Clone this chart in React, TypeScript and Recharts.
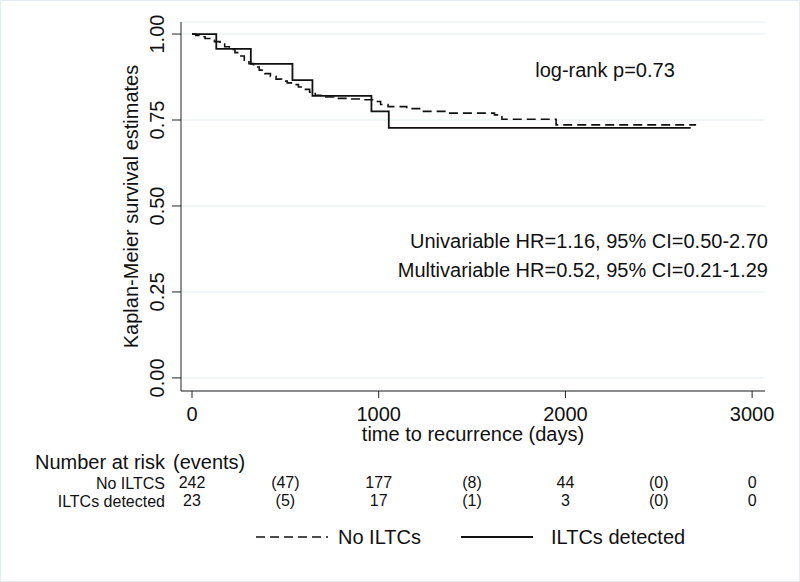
import { CartesianGrid, Line, LineChart, XAxis, YAxis } from "recharts"

const FONT = "'Liberation Sans', Arial, Helvetica, sans-serif"
const INK = "#111"

// axis ticks
const xTicks = [0, 1000, 2000, 3000]
const yTicks = [0, 0.25, 0.5, 0.75, 1]

// number at risk table (events in parentheses between ticks)
const riskTimes = [0, 500, 1000, 1500, 2000, 2500, 3000]
const riskNoIltc = ["242", "(47)", "177", "(8)", "44", "(0)", "0"]
const riskIltc = ["23", "(5)", "17", "(1)", "3", "(0)", "0"]

// Kaplan-Meier curve, ILTCs detected (solid)
const iltcTimes = [0, 130, 315, 538, 645, 961, 1054, 2671]
const iltcSurv = [1, 0.957, 0.913, 0.866, 0.82, 0.775, 0.727, 0.727]

// Kaplan-Meier curve, no ILTCs (dashed)
const noIltcTimes = [
  0, 20, 45, 70, 95, 120, 150, 175, 200, 230, 255, 280, 305, 330, 360, 390, 420, 450, 480, 510, 540, 570, 600,
  630, 660, 700, 760, 830, 900, 980, 1010, 1050, 1150, 1230, 1360, 1620, 1660, 1950, 2700,
]
const noIltcSurv = [
  1, 0.996, 0.992, 0.987, 0.982, 0.978, 0.971, 0.963, 0.955, 0.946, 0.936, 0.924, 0.914, 0.904, 0.895, 0.885,
  0.877, 0.869, 0.863, 0.858, 0.853, 0.846, 0.839, 0.831, 0.822, 0.817, 0.813, 0.811, 0.809, 0.804, 0.795, 0.789,
  0.783, 0.775, 0.77, 0.765, 0.752, 0.736, 0.736,
]

const iltcData = iltcTimes.map((t, i) => ({ t, s: iltcSurv[i] }))
const noIltcData = noIltcTimes.map((t, i) => ({ t, s: noIltcSurv[i] }))
// anchor rows so the risk-table axes get registered (drawn invisibly)
const riskRow = riskTimes.map((t) => ({ t, s: 0.5 }))

const X_DOMAIN: [number, number] = [-59, 3069]
const Y_DOMAIN: [number, number] = [-0.038, 1.035]

function YTick(props: any) {
  const { x, y, payload } = props
  return (
    <text x={x} y={y} transform={`rotate(-90 ${x} ${y})`} textAnchor="middle" fontSize={20} fill={INK}>
      {Number(payload.value).toFixed(2)}
    </text>
  )
}

export default function App() {
  return (
    <div style={{ position: "absolute", left: 0, top: 0, width: 800, height: 582, background: "#fff", fontFamily: FONT }}>
      <LineChart width={800} height={582} margin={{ top: 22, right: 35, left: 0, bottom: 77 }} style={{ fontFamily: FONT }}>
        <CartesianGrid xAxisId="main" vertical={false} stroke="#e3ecef" strokeWidth={1} />
        <XAxis
          xAxisId="main"
          dataKey="t"
          type="number"
          domain={X_DOMAIN}
          ticks={xTicks}
          interval={0}
          allowDataOverflow
          height={78}
          tickSize={7}
          tickMargin={9}
          stroke="#222"
          tick={{ fontSize: 20, fill: INK }}
          label={{ value: "time to recurrence (days)", position: "insideBottom", offset: 28, fontSize: 20, fill: INK }}
        />
        <XAxis
          xAxisId="r1"
          dataKey="t"
          type="number"
          domain={X_DOMAIN}
          ticks={riskTimes}
          interval={0}
          allowDataOverflow
          height={18}
          axisLine={false}
          tickLine={false}
          tickSize={0}
          tickMargin={8}
          tick={{ fontSize: 16, fill: INK }}
          tickFormatter={(v: number) => riskNoIltc[riskTimes.indexOf(v)]}
        />
        <XAxis
          xAxisId="r2"
          dataKey="t"
          type="number"
          domain={X_DOMAIN}
          ticks={riskTimes}
          interval={0}
          allowDataOverflow
          height={18}
          axisLine={false}
          tickLine={false}
          tickSize={0}
          tickMargin={8}
          tick={{ fontSize: 16, fill: INK }}
          tickFormatter={(v: number) => riskIltc[riskTimes.indexOf(v)]}
        />
        <YAxis
          type="number"
          domain={Y_DOMAIN}
          ticks={yTicks}
          interval={0}
          allowDataOverflow
          width={181}
          tickSize={9}
          tickMargin={8}
          stroke="#222"
          tick={<YTick />}
        />
        <Line
          xAxisId="r1"
          data={riskRow}
          dataKey="s"
          stroke="none"
          dot={false}
          activeDot={false}
          isAnimationActive={false}
        />
        <Line
          xAxisId="r2"
          data={riskRow}
          dataKey="s"
          stroke="none"
          dot={false}
          activeDot={false}
          isAnimationActive={false}
        />
        <Line
          xAxisId="main"
          data={noIltcData}
          dataKey="s"
          type="stepAfter"
          stroke={INK}
          strokeWidth={1.6}
          strokeDasharray="9 5"
          dot={false}
          isAnimationActive={false}
        />
        <Line
          xAxisId="main"
          data={iltcData}
          dataKey="s"
          type="stepAfter"
          stroke={INK}
          strokeWidth={1.8}
          dot={false}
          isAnimationActive={false}
        />
      </LineChart>

      <svg
        width={800}
        height={582}
        style={{ position: "absolute", left: 0, top: 0, pointerEvents: "none" }}
        fontFamily={FONT}
        fill={INK}
      >
        <text x={138} y={206.5} transform="rotate(-90 138 206.5)" textAnchor="middle" fontSize={20}>
          Kaplan-Meier survival estimates
        </text>
        <text x={605} y={77} textAnchor="middle" fontSize={20}>
          log-rank p=0.73
        </text>
        <text x={768} y={248} textAnchor="end" fontSize={20}>
          Univariable HR=1.16, 95% CI=0.50-2.70
        </text>
        <text x={768} y={277} textAnchor="end" fontSize={20}>
          Multivariable HR=0.52, 95% CI=0.21-1.29
        </text>
        <text x={35} y={469} fontSize={20}>
          Number at risk
        </text>
        <text x={173} y={469} fontSize={20}>
          (events)
        </text>
        <text x={165} y={489} textAnchor="end" fontSize={16}>
          No ILTCS
        </text>
        <text x={165} y={507} textAnchor="end" fontSize={16}>
          ILTCs detected
        </text>
        <line x1={256} x2={328} y1={537} y2={537} stroke={INK} strokeWidth={1.6} strokeDasharray="9 5" />
        <text x={338} y={544} fontSize={20}>
          No ILTCs
        </text>
        <line x1={461} x2={533} y1={537} y2={537} stroke={INK} strokeWidth={1.8} />
        <text x={551} y={544} fontSize={20}>
          ILTCs detected
        </text>
      </svg>
      <div
        style={{
          position: "absolute",
          left: 0,
          top: 0,
          width: 800,
          height: 582,
          boxSizing: "border-box",
          border: "1px solid #e3ecef",
          pointerEvents: "none",
        }}
      />
    </div>
  )
}
